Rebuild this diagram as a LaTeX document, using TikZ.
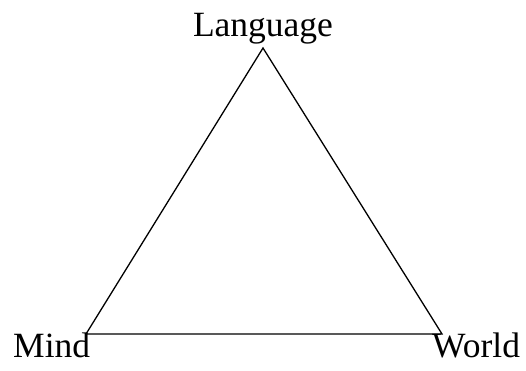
\documentclass[tikz,border=0pt]{standalone}
\usepackage{fontspec}
\setmainfont{Liberation Serif}
\begin{document}
\begin{tikzpicture}[x=1pt,y=1pt,
  lbl/.style={inner sep=0pt,font=\fontsize{35.5}{40}\selectfont},
  edge/.style={line width=1.3pt,line join=miter}]
\useasboundingbox (0,0) rectangle (526,370);
\coordinate (L) at (263,322);
\coordinate (M) at (86,36);
\coordinate (W) at (442,36);
\draw[edge] (L) -- (M) -- (W) -- cycle;
\node[lbl,anchor=base] (tl) at (263,333) {Language};
\node[lbl,anchor=base west] (tm) at (13,13) {Mind};
\node[lbl,anchor=base west] (tw) at (432,13) {World};
\end{tikzpicture}
\end{document}
